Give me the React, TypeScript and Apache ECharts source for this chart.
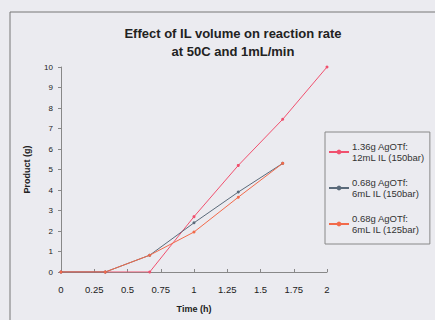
import React, { useEffect, useRef } from "react";
import * as echarts from "echarts";

const times = [0, 0.333, 0.667, 1, 1.333, 1.667, 2];
const seriesNames = [
  "1.36g AgOTf:\n12mL IL (150bar)",
  "0.68g AgOTf:\n6mL IL (150bar)",
  "0.68g AgOTf:\n6mL IL (125bar)",
];
const s1 = [0, 0, 0, 2.7, 5.2, 7.45, 10];
const s2 = [0, 0, 0.82, 2.4, 3.9, 5.3];
const s3 = [0, 0, 0.82, 1.95, 3.65, 5.3];
const xTicks = [0, 0.25, 0.5, 0.75, 1, 1.25, 1.5, 1.75, 2];
const colors = ["#f0506e", "#5a6a7a", "#f26a4a"];

export default function App() {
  const ref = useRef<HTMLDivElement>(null);
  useEffect(() => {
    const chart = echarts.init(ref.current!, undefined, { renderer: "svg" });
    const all = [s1, s2, s3];
    chart.setOption({
      animation: false,
      backgroundColor: "#ebebf0",
      textStyle: { fontFamily: "Liberation Sans, Arial, sans-serif" },
      title: {
        text: "Effect of IL volume on reaction rate\nat 50C and 1mL/min",
        left: 228,
        textAlign: "center",
        top: 19,
        textStyle: { fontSize: 13, fontWeight: "bold", color: "#222", lineHeight: 18 },
      },
      graphic: [
        {
          type: "rect",
          shape: { x: 10, y: 12, width: 440, height: 330 },
          style: { fill: "none", stroke: "#777", lineWidth: 1 },
        },
      ],
      grid: { left: 61, right: 108, top: 67, bottom: 48 },
      xAxis: {
        type: "value",
        min: 0,
        max: 2,
        interval: 0.25,
        name: "Time (h)",
        nameLocation: "middle",
        nameGap: 32,
        nameTextStyle: { fontSize: 9, fontWeight: "bold", color: "#222" },
        axisLine: { lineStyle: { color: "#888" } },
        axisTick: { show: true, inside: true, length: 3, lineStyle: { color: "#888" } },
        splitLine: { show: false },
        axisLabel: {
          fontSize: 9.5,
          color: "#222",
          margin: 12,
          formatter: (v: number) => {
            const t = xTicks.find((x) => Math.abs(x - v) < 1e-6);
            return t === undefined ? "" : String(t);
          },
        },
      },
      yAxis: {
        type: "value",
        min: 0,
        max: 10,
        interval: 1,
        name: "Product (g)",
        nameLocation: "middle",
        nameGap: 30,
        nameTextStyle: { fontSize: 9, fontWeight: "bold", color: "#222" },
        axisLine: { show: true, lineStyle: { color: "#888" } },
        axisTick: { show: true, length: 3, lineStyle: { color: "#888" } },
        splitLine: { show: false },
        axisLabel: { fontSize: 8, color: "#222", margin: 8 },
      },
      legend: {
        orient: "vertical",
        left: 325,
        top: 132,
        padding: [9, 5, 9, 3],
        itemGap: 14,
        itemWidth: 20,
        itemHeight: 6,
        borderColor: "#888",
        borderWidth: 1,
        textStyle: { fontSize: 9.5, color: "#333", lineHeight: 11, padding: [0, 0, 0, -2] },
        data: seriesNames,
      },
      series: all.map((d, i) => ({
        type: "line",
        name: seriesNames[i],
        data: d.map((y, j) => [times[j], y]),
        symbol: "circle",
        symbolSize: 3,
        color: colors[i],
        lineStyle: { width: 1, color: colors[i] },
        itemStyle: { color: colors[i] },
      })),
    });
    return () => chart.dispose();
  }, []);
  return (
    <div
      ref={ref}
      style={{ position: "absolute", left: 0, top: 0, width: 435, height: 320 }}
    />
  );
}
